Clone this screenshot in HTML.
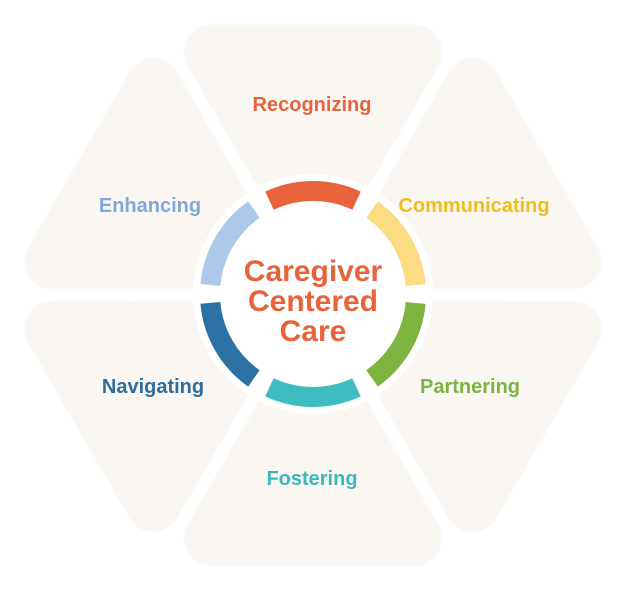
<!DOCTYPE html>
<html><head><meta charset="utf-8"><style>
html,body{margin:0;padding:0;background:#fff;}
svg{display:block;}
text{font-family:"Liberation Sans",sans-serif;font-weight:bold;text-anchor:middle;}
</style></head><body>
<svg width="625" height="594" viewBox="0 0 625 594" xmlns="http://www.w3.org/2000/svg">
<defs>
<filter id="sh" x="-10%" y="-10%" width="120%" height="120%">
<feDropShadow dx="0" dy="1" stdDeviation="1.5" flood-color="#000" flood-opacity="0.08"/>
</filter>
<polygon id="tri" points="211.5,51 414.5,51 313,227" fill="#faf7f3" stroke="#faf7f3" stroke-width="52" stroke-linejoin="round"/>
</defs>
<g filter="url(#sh)">
<use href="#tri"/>
<use href="#tri" transform="rotate(60 313 294)"/>
<use href="#tri" transform="rotate(120 313 294)"/>
<use href="#tri" transform="rotate(180 313 294)"/>
<use href="#tri" transform="rotate(240 313 294)"/>
<use href="#tri" transform="rotate(300 313 294)"/>
</g>
<circle cx="313" cy="294" r="120" fill="#fff"/>
<g fill="none" stroke-width="20">
<circle cx="313" cy="294" r="103" stroke="#e8633a" stroke-dasharray="89.9 557.3" transform="rotate(-115 313 294)"/>
<circle cx="313" cy="294" r="103" stroke="#fcdc82" stroke-dasharray="89.9 557.3" transform="rotate(-55 313 294)"/>
<circle cx="313" cy="294" r="103" stroke="#7db540" stroke-dasharray="89.9 557.3" transform="rotate(5 313 294)"/>
<circle cx="313" cy="294" r="103" stroke="#3dbdbf" stroke-dasharray="89.9 557.3" transform="rotate(65 313 294)"/>
<circle cx="313" cy="294" r="103" stroke="#2b71a3" stroke-dasharray="89.9 557.3" transform="rotate(125 313 294)"/>
<circle cx="313" cy="294" r="103" stroke="#adc9ea" stroke-dasharray="89.9 557.3" transform="rotate(185 313 294)"/>
</g>
<g fill="#e8633a" font-size="30">
<text x="313" y="281">Caregiver</text>
<text x="313" y="311">Centered</text>
<text x="313" y="341">Care</text>
</g>
<g font-size="20">
<text x="312" y="111" fill="#e8633a">Recognizing</text>
<text x="150" y="212" fill="#7fa8db">Enhancing</text>
<text x="474" y="212" fill="#f0bd1e">Communicating</text>
<text x="153" y="393" fill="#2e6d9e">Navigating</text>
<text x="470" y="393" fill="#7cb342">Partnering</text>
<text x="312" y="485" fill="#3bb8bb">Fostering</text>
</g>
</svg>
</body></html>
